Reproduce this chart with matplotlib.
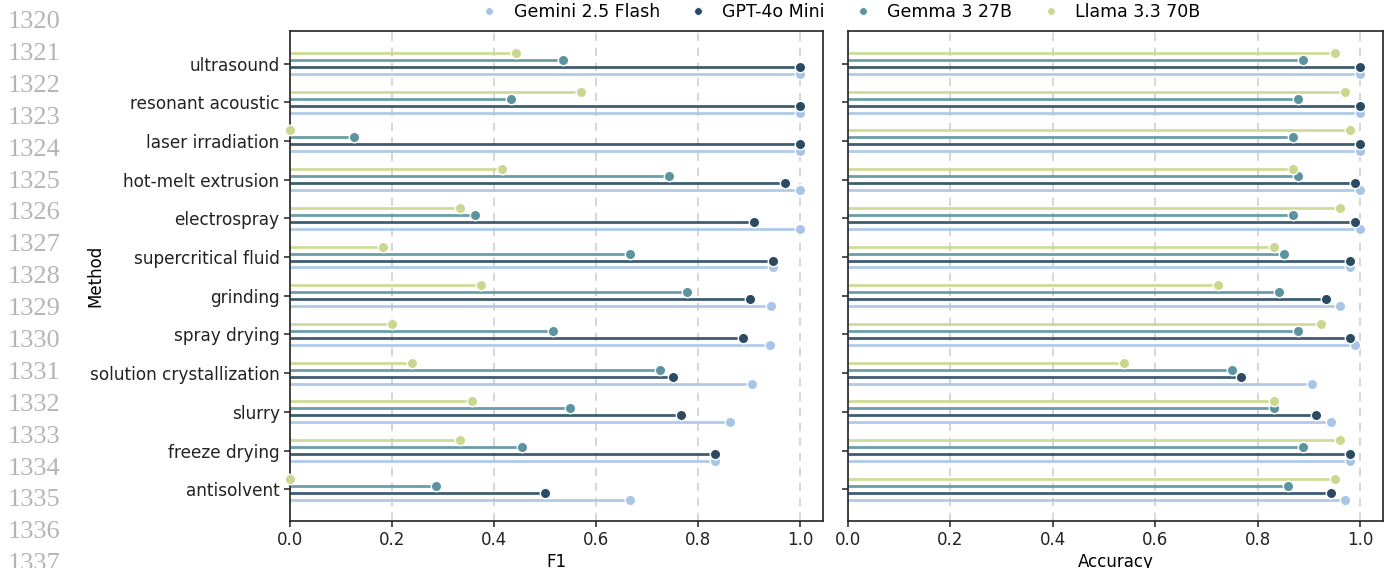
import matplotlib
matplotlib.use("Agg")
import matplotlib.pyplot as plt
import numpy as np
from matplotlib.lines import Line2D

methods = ["ultrasound", "resonant acoustic", "laser irradiation", "hot-melt extrusion",
           "electrospray", "supercritical fluid", "grinding", "spray drying",
           "solution crystallization", "slurry", "freeze drying", "antisolvent"]
models = ["Gemini 2.5 Flash", "GPT-4o Mini", "Gemma 3 27B", "Llama 3.3 70B"]
colors = ["#a9c5e6", "#2a4b61", "#5b949f", "#cad88f"]

f1_gemini = [1.0, 1.0, 1.0, 1.0, 1.0, 0.947, 0.944, 0.941, 0.906, 0.863, 0.833, 0.667]
f1_gpt = [1.0, 1.0, 1.0, 0.970, 0.909, 0.947, 0.901, 0.889, 0.750, 0.767, 0.833, 0.500]
f1_gemma = [0.536, 0.433, 0.125, 0.743, 0.362, 0.666, 0.778, 0.516, 0.725, 0.549, 0.454, 0.286]
f1_llama = [0.444, 0.571, 0.0, 0.415, 0.333, 0.182, 0.375, 0.200, 0.240, 0.357, 0.333, 0.0]

acc_gemini = [1.0, 1.0, 1.0, 1.0, 1.0, 0.980, 0.961, 0.990, 0.906, 0.943, 0.980, 0.970]
acc_gpt = [1.0, 1.0, 1.0, 0.990, 0.990, 0.980, 0.933, 0.980, 0.768, 0.915, 0.980, 0.943]
acc_gemma = [0.889, 0.878, 0.870, 0.879, 0.870, 0.851, 0.842, 0.878, 0.750, 0.832, 0.888, 0.860]
acc_llama = [0.951, 0.970, 0.980, 0.870, 0.961, 0.832, 0.722, 0.924, 0.539, 0.832, 0.961, 0.951]

xticks = [0.0, 0.2, 0.4, 0.6, 0.8, 1.0]
line_numbers = list(range(1320, 1338))

plt.rcParams['font.family'] = ['DejaVu Sans']

fig = plt.figure(figsize=(13.85, 5.68), dpi=100)
ax1 = fig.add_axes([290/1385, 1-521/568, 533/1385, 490/568])
ax2 = fig.add_axes([848/1385, 1-521/568, 535/1385, 490/568])

offsets = [0.27, 0.09, -0.09, -0.27]
y = np.arange(len(methods))

def draw(ax, series, xlabel, show_labels):
    for k, (vals, c, off) in enumerate(zip(series, colors, offsets)):
        yy = y + off
        ax.hlines(yy, 0, vals, color=c, lw=2.0, alpha=0.9, zorder=2)
        ax.plot(vals, yy, 'o', color=c, ms=7.5, mec='white', mew=1.0, zorder=3, clip_on=False)
    ax.set_xlim(0, 1.045)
    ax.set_ylim(len(methods) - 1 + 0.82, -0.84)
    ax.set_xticks(xticks)
    ax.set_xticklabels([f"{t:.1f}" for t in xticks], fontsize=12)
    ax.set_yticks(y)
    if show_labels:
        ax.set_yticklabels(methods, fontsize=12.2)
        ax.set_ylabel("Method", fontsize=12)
        ax.yaxis.set_label_coords((104 - 290) / 533, 0.5)
    else:
        ax.set_yticklabels([])
    ax.set_xlabel(xlabel, fontsize=12, labelpad=2.5)
    ax.grid(axis='x', ls=(0, (5, 4)), color='#cfcfcf', lw=1.2, zorder=0)
    ax.set_axisbelow(True)
    for s in ax.spines.values():
        s.set_color('#222222')
        s.set_linewidth(1.2)
    ax.tick_params(axis='both', length=4, width=1.1, color='#222222', labelcolor='#222222')

draw(ax1, [f1_gemini, f1_gpt, f1_gemma, f1_llama], "F1", True)
draw(ax2, [acc_gemini, acc_gpt, acc_gemma, acc_llama], "Accuracy", False)

handles = [Line2D([0], [0], marker='o', ls='', color=c, ms=5.5, mec='white', mew=0.5) for c in colors]
fig.legend(handles, models, loc='center', bbox_to_anchor=(836/1385, 1-12/568), ncol=4,
           frameon=False, fontsize=12.5, handletextpad=0.4, columnspacing=1.2, borderaxespad=0)

for i, n in enumerate(line_numbers):
    fig.text(34/1385, 1 - (22 + i*31.9)/568, str(n), ha='center', va='center',
             fontsize=19, color='#b5b5b5', family='Liberation Serif')

fig.savefig("out.png", dpi=100)
